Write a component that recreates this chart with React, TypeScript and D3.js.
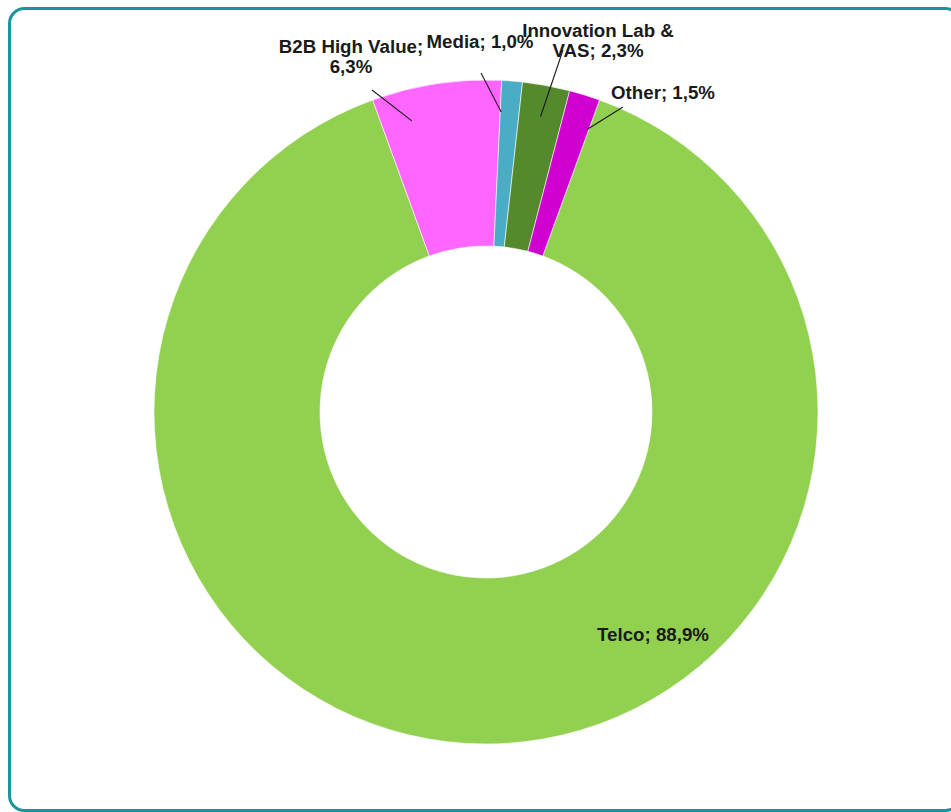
import React from "react";
import * as d3 from "d3";

const categories = ["Telco", "B2B High Value", "Media", "Innovation Lab & VAS", "Other"];
const values = [88.9, 6.3, 1.0, 2.3, 1.5];
const valueLabels = ["88,9%", "6,3%", "1,0%", "2,3%", "1,5%"];
const colors = ["#92D050", "#FF66FF", "#4BACC6", "#548A2C", "#D000D0"];

// label layout (offsets from pie centre), not data
const labelLayout = [
  { lines: ["Telco; 88,9%"], dx: 167, dy: 229, leader: null as null | { fx: number; x: number; y: number } },
  { lines: ["B2B High Value;", "6,3%"], dx: -135, dy: -359, leader: { fx: 0.25, x: -114, y: -322 } },
  { lines: ["Media; 1,0%"], dx: -6, dy: -364, leader: { fx: 0.05, x: -5, y: -339 } },
  { lines: ["Innovation Lab &", "VAS; 2,3%"], dx: 112, dy: -375, leader: { fx: 0.5, x: 77, y: -362 } },
  { lines: ["Other; 1,5%"], dx: 177, dy: -313, leader: { fx: 0.95, x: 137, y: -305 } },
];

const W = 951;
const H = 812;
const cx = 486;
const cy = 412;
const outerR = 332;
const innerR = 166;
const startDeg = 20;

export default function App() {
  const pie = d3
    .pie<number>()
    .sort(null)
    .value((d) => d)
    .startAngle((startDeg * Math.PI) / 180)
    .endAngle(((startDeg + 360) * Math.PI) / 180);
  const arcs = pie(values);
  const arc = d3.arc<d3.PieArcDatum<number>>().innerRadius(innerR).outerRadius(outerR);
  const lineH = 20;

  return (
    <svg
      width={W}
      height={H}
      style={{ position: "absolute", left: 0, top: 0, background: "#fff" }}
      fontFamily="'Liberation Sans', Arial, sans-serif"
    >
      <rect x={9.5} y={8.5} width={951} height={802} rx={15} ry={15} fill="#fff" stroke="#17979C" strokeWidth={3} />
      <g transform={`translate(${cx},${cy})`}>
        {arcs.map((a, i) => (
          <path key={categories[i]} d={arc(a) || ""} fill={colors[i]} stroke="#ffffff" strokeWidth={0.6} />
        ))}
        {arcs.map((a, i) => {
          const L = labelLayout[i];
          if (!L.leader) return null;
          const ang = a.startAngle + (a.endAngle - a.startAngle) * L.leader.fx;
          const r = outerR * 0.905;
          const x2 = Math.sin(ang) * r;
          const y2 = -Math.cos(ang) * r;
          return (
            <line key={"l" + i} x1={L.leader.x} y1={L.leader.y} x2={x2} y2={y2} stroke="#1a1a1a" strokeWidth={1.1} />
          );
        })}
        {arcs.map((a, i) => {
          const L = labelLayout[i];
          return (
            <text
              key={"t" + i}
              x={L.dx}
              y={L.dy}
              textAnchor="middle"
              fontSize={18.7}
              fontWeight="bold"
              fill="#1a1a1a"
            >
              {L.lines.map((ln, j) => (
                <tspan key={j} x={L.dx} y={L.dy + j * lineH}>
                  {ln}
                </tspan>
              ))}
            </text>
          );
        })}
      </g>
    </svg>
  );
}
